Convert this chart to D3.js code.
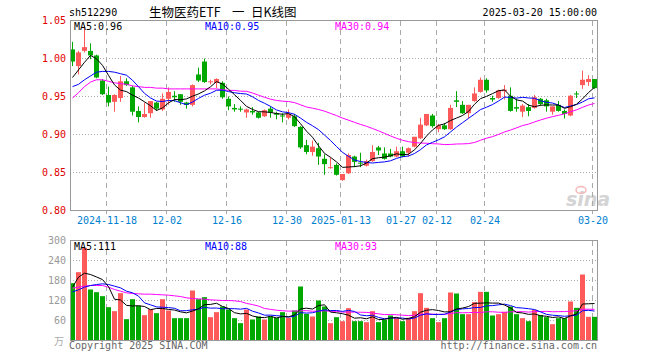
<!DOCTYPE html>
<html>
<head>
<meta charset="utf-8">
<script src="https://cdn.jsdelivr.net/npm/d3@7"></script>
<style>
  body { margin: 0; background: #fff; }
  svg { display: block; }
  text { font-family: "DejaVu Sans Mono", monospace; font-size: 10px; }
</style>
</head>
<body>
<svg id="chart" width="660" height="360"></svg>
<script>
// trading days shown
const dates = [
  '2024-11-08','2024-11-11','2024-11-12','2024-11-13','2024-11-14','2024-11-15','2024-11-18','2024-11-19','2024-11-20','2024-11-21',
  '2024-11-22','2024-11-25','2024-11-26','2024-11-27','2024-11-28','2024-11-29','2024-12-02','2024-12-03','2024-12-04','2024-12-05',
  '2024-12-06','2024-12-09','2024-12-10','2024-12-11','2024-12-12','2024-12-13','2024-12-16','2024-12-17','2024-12-18','2024-12-19',
  '2024-12-20','2024-12-23','2024-12-24','2024-12-25','2024-12-26','2024-12-27','2024-12-30','2024-12-31','2025-01-02','2025-01-03',
  '2025-01-06','2025-01-07','2025-01-08','2025-01-09','2025-01-10','2025-01-13','2025-01-14','2025-01-15','2025-01-16','2025-01-17',
  '2025-01-20','2025-01-21','2025-01-22','2025-01-23','2025-01-24','2025-01-27','2025-02-05','2025-02-06','2025-02-07','2025-02-10',
  '2025-02-11','2025-02-12','2025-02-13','2025-02-14','2025-02-17','2025-02-18','2025-02-19','2025-02-20','2025-02-21','2025-02-24',
  '2025-02-25','2025-02-26','2025-02-27','2025-02-28','2025-03-03','2025-03-04','2025-03-05','2025-03-06','2025-03-07','2025-03-10',
  '2025-03-11','2025-03-12','2025-03-13','2025-03-14','2025-03-17','2025-03-18','2025-03-19','2025-03-20'
];

const opens = [
  1.012,0.990,1.010,1.010,1.004,0.971,0.952,0.943,0.948,0.970,
  0.962,0.931,0.923,0.928,0.942,0.933,0.947,0.951,0.953,0.942,
  0.939,0.979,0.996,0.969,0.968,0.968,0.947,0.935,0.934,0.929,
  0.931,0.929,0.924,0.934,0.928,0.925,0.922,0.924,0.910,0.886,
  0.877,0.882,0.868,0.856,0.860,0.840,0.849,0.871,0.863,0.859,
  0.865,0.883,0.875,0.875,0.871,0.878,0.876,0.884,0.895,0.912,
  0.925,0.907,0.912,0.907,0.945,0.939,0.928,0.944,0.956,0.972,
  0.948,0.948,0.957,0.951,0.936,0.930,0.936,0.935,0.947,0.945,
  0.930,0.939,0.931,0.925,0.954,0.965,0.969,0.973
];
const closes = [
  0.996,1.008,1.015,1.004,0.975,0.953,0.942,0.952,0.970,0.965,
  0.930,0.923,0.927,0.944,0.934,0.947,0.956,0.949,0.943,0.939,
  0.965,0.971,0.969,0.970,0.973,0.949,0.937,0.933,0.933,0.933,
  0.929,0.922,0.932,0.929,0.926,0.924,0.927,0.911,0.883,0.877,
  0.884,0.871,0.861,0.857,0.847,0.848,0.873,0.864,0.862,0.865,
  0.877,0.879,0.868,0.871,0.878,0.871,0.882,0.897,0.913,0.927,
  0.911,0.912,0.907,0.935,0.943,0.928,0.939,0.954,0.972,0.958,
  0.946,0.958,0.959,0.931,0.934,0.938,0.931,0.949,0.940,0.937,
  0.937,0.931,0.927,0.951,0.953,0.972,0.973,0.961
];
const highs = [
  1.022,1.010,1.043,1.020,1.005,0.973,0.963,0.953,0.977,0.974,
  0.964,0.937,0.942,0.944,0.943,0.954,0.962,0.957,0.953,0.943,
  0.966,0.988,1.000,0.972,0.974,0.970,0.950,0.940,0.937,0.934,
  0.936,0.930,0.933,0.937,0.930,0.928,0.933,0.927,0.911,0.893,
  0.892,0.889,0.874,0.870,0.862,0.848,0.875,0.872,0.876,0.867,
  0.886,0.885,0.883,0.881,0.884,0.884,0.883,0.897,0.922,0.927,
  0.927,0.914,0.915,0.939,0.957,0.944,0.939,0.962,0.975,0.974,
  0.951,0.959,0.965,0.962,0.947,0.940,0.940,0.952,0.948,0.947,
  0.937,0.944,0.933,0.952,0.957,0.984,0.978,0.973
];
const lows = [
  0.990,0.979,1.008,0.999,0.974,0.952,0.937,0.930,0.943,0.964,
  0.925,0.916,0.922,0.922,0.931,0.931,0.939,0.943,0.939,0.934,
  0.937,0.969,0.968,0.966,0.961,0.947,0.932,0.930,0.930,0.922,
  0.926,0.921,0.923,0.922,0.920,0.916,0.920,0.910,0.881,0.874,
  0.872,0.860,0.847,0.855,0.846,0.839,0.848,0.857,0.857,0.858,
  0.864,0.873,0.867,0.870,0.870,0.870,0.871,0.883,0.894,0.911,
  0.909,0.903,0.906,0.906,0.936,0.927,0.921,0.943,0.955,0.955,
  0.943,0.947,0.946,0.930,0.930,0.923,0.924,0.934,0.938,0.930,
  0.926,0.930,0.921,0.924,0.948,0.960,0.964,0.960
];
// volume, 10k lots
const volumes = [
  172,205,278,153,145,133,100,88,142,64,
  124,104,76,94,82,124,90,67,67,67,
  150,124,130,70,85,102,93,67,52,93,
  63,72,63,72,68,85,68,90,162,80,
  72,120,102,52,70,58,97,58,58,55,
  88,55,62,75,68,58,68,88,142,98,
  67,55,67,144,141,79,79,115,146,146,
  75,79,86,102,79,67,58,92,76,70,
  49,67,67,117,98,198,71,71
];

// moving average values before enough history is on screen
const priceMa5Head = [0.975,0.985,0.995,1.004];
const priceMa10Head = [0.963,0.966,0.972,0.977,0.982,0.983,0.983,0.982,0.980];
const priceMa30Head = [0.948,0.955,0.963,0.969,0.972,0.972,0.970,0.968,0.967,0.966,
  0.964,0.963,0.962,0.962,0.961,0.961,0.960,0.960,0.960,0.960,
  0.960,0.960,0.960,0.960,0.960,0.959,0.958,0.958,0.957];
const volMa5Head = [160,190,202,198];
const volMa10Head = [146,152,160,165,168,170,168,163,158];
const volMa30Head = [157,160,163,165,165,165,160,153,148,143,
  141,140,139,139,138,137,136,134,132,128,
  126,125,124,122,121,120,120,119,117];

const tickDates = ['2024-11-18','2024-12-02','2024-12-16','2024-12-30','2025-01-13','2025-01-27','2025-02-12','2025-02-24','2025-03-20'];
const tickLabels = ['2024-11-18','12-02','12-16','12-30','2025-01-13','01-27','02-12','02-24','03-20'];
const priceTicks = [0.80,0.85,0.90,0.95,1.00,1.05];
const volTicks = [60,120,180,240,300];

const RED = '#ff5a5a', GREEN = '#00a800';

function movingAvg(vals, n, head) {
  return vals.map(function (v, i) {
    if (i < n - 1) return head[i];
    return d3.mean(vals.slice(i - n + 1, i + 1));
  });
}

const svg = d3.select('#chart');
svg.append('rect').attr('width', 660).attr('height', 360).attr('fill', '#fff');

const L = 70, R = 597;
const x = d3.scaleLinear().domain([0, dates.length - 1]).range([L, 592]);
const yP = d3.scaleLinear().domain([0.80, 1.05]).range([210.5, 20.5]);
const yV = d3.scaleLinear().domain([0, 300]).range([340.5, 240.5]);
const tickIdx = tickDates.map(d => dates.indexOf(d));
const bx = i => Math.round(x(i));

// header
svg.append('text').attr('x', 69).attr('y', 16).attr('fill', '#000').text('sh512290');
const title = svg.append('text').attr('y', 17).attr('fill', '#000')
  .style('font-family', '"Noto Sans CJK SC", sans-serif').style('font-size', '12.5px');
title.append('tspan').attr('x', 149).text('生物医药ETF');
title.append('tspan').attr('x', 232).text('一');
title.append('tspan').attr('x', 251).text('日K线图');
svg.append('text').attr('x', 597).attr('y', 16).attr('text-anchor', 'end').attr('fill', '#000').text('2025-03-20 15:00:00');

function panelGrid(yScale, ticks, top, bottom) {
  const g = svg.append('g');
  g.selectAll('line.h').data(ticks).enter().append('line')
    .attr('x1', L).attr('x2', R)
    .attr('y1', d => Math.round(yScale(d) - 0.5) + 0.5).attr('y2', d => Math.round(yScale(d) - 0.5) + 0.5)
    .attr('stroke', '#aaa').attr('stroke-dasharray', '1,2');
  g.selectAll('line.v').data(tickIdx).enter().append('line')
    .attr('x1', i => bx(i) + 0.5).attr('x2', i => bx(i) + 0.5)
    .attr('y1', top).attr('y2', bottom)
    .attr('stroke', '#aaa').attr('stroke-dasharray', '5,4');
}
panelGrid(yP, [0.85, 0.90, 0.95, 1.00], 21, 214);
panelGrid(yV, [60, 120, 180, 240], 241, 340);

// watermark
const wm = svg.append('g').attr('opacity', 0.5);
wm.append('text').attr('x', 566).attr('y', 206)
  .style('font-family', '"DejaVu Sans", sans-serif').style('font-size', '19px')
  .style('font-style', 'italic').style('font-weight', 'bold').attr('fill', '#aaa').text('sina');
wm.append('ellipse').attr('cx', 581).attr('cy', 190).attr('rx', 5).attr('ry', 3.5)
  .attr('fill', 'none').attr('stroke', '#f07070').attr('stroke-width', 1.5);

// candles
const cg = svg.append('g');
dates.forEach(function (d, i) {
  const up = closes[i] >= opens[i];
  const col = up ? RED : GREEN;
  cg.append('line').attr('x1', bx(i) + 2.5).attr('x2', bx(i) + 2.5)
    .attr('y1', yP(highs[i])).attr('y2', yP(lows[i])).attr('stroke', col);
  const t = yP(Math.max(opens[i], closes[i]));
  const b = yP(Math.min(opens[i], closes[i]));
  cg.append('rect').attr('x', bx(i)).attr('width', 5)
    .attr('y', t).attr('height', Math.max(1, b - t)).attr('fill', col);
});

// volume bars
svg.append('g').selectAll('rect').data(volumes).enter().append('rect')
  .attr('x', (v, i) => bx(i)).attr('width', 5)
  .attr('y', v => yV(v)).attr('height', v => 340.5 - yV(v))
  .attr('fill', (v, i) => closes[i] >= opens[i] ? RED : GREEN);

// MA lines
const pMa5 = movingAvg(closes, 5, priceMa5Head);
const pMa10 = movingAvg(closes, 10, priceMa10Head);
const pMa30 = movingAvg(closes, 30, priceMa30Head);
const vMa5 = movingAvg(volumes, 5, volMa5Head);
const vMa10 = movingAvg(volumes, 10, volMa10Head);
const vMa30 = movingAvg(volumes, 30, volMa30Head);

function drawLine(vals, yScale, color) {
  svg.append('path').datum(vals)
    .attr('fill', 'none').attr('stroke', color).attr('stroke-width', 1)
    .attr('d', d3.line().x((v, i) => bx(i) + 2.5).y(v => yScale(v)));
}
drawLine(pMa30, yP, '#ff00ff');
drawLine(pMa10, yP, '#0000ff');
drawLine(pMa5, yP, '#000');
drawLine(vMa30, yV, '#ff00ff');
drawLine(vMa10, yV, '#0000ff');
drawLine(vMa5, yV, '#000');

// borders
svg.append('rect').attr('x', 70.5).attr('y', 20.5).attr('width', 527).attr('height', 190)
  .attr('fill', 'none').attr('stroke', '#999');
svg.append('rect').attr('x', 70.5).attr('y', 240.5).attr('width', 527).attr('height', 100)
  .attr('fill', 'none').attr('stroke', '#999');

// axes
const ayP = svg.append('g').attr('transform', 'translate(70,0)')
  .call(d3.axisLeft(yP).tickValues(priceTicks).tickFormat(d3.format('.2f')).tickSize(0).tickPadding(4));
ayP.select('.domain').remove();
ayP.selectAll('text').attr('fill', '#e00000').style('font-size', '10px').style('font-family', '"DejaVu Sans Mono", monospace');

const ayV = svg.append('g').attr('transform', 'translate(70,0)')
  .call(d3.axisLeft(yV).tickValues(volTicks).tickFormat(d3.format('d')).tickSize(0).tickPadding(4));
ayV.select('.domain').remove();
ayV.selectAll('text').attr('fill', '#999').style('font-size', '10px').style('font-family', '"DejaVu Sans Mono", monospace');
svg.append('text').attr('x', 64).attr('y', 345).attr('text-anchor', 'end').attr('fill', '#aaa')
  .style('font-family', '"Noto Sans CJK SC", sans-serif').text('万');

const ax = svg.append('g').attr('transform', 'translate(0,211)')
  .call(d3.axisBottom(d3.scaleLinear().domain([0, dates.length - 1]).range([L + 0.5, 592.5]))
    .tickValues(tickIdx).tickFormat((d, k) => tickLabels[k]).tickSize(0).tickPadding(6));
ax.select('.domain').remove();
ax.selectAll('text').attr('fill', '#0080d0').style('font-size', '10px').style('font-family', '"DejaVu Sans Mono", monospace');

// MA legends
const last = dates.length - 1;
svg.append('text').attr('x', 74).attr('y', 30).attr('fill', '#000').text('MA5:' + pMa5[last].toFixed(2));
svg.append('text').attr('x', 205).attr('y', 30).attr('fill', '#0000ff').text('MA10:' + pMa10[last].toFixed(2));
svg.append('text').attr('x', 335).attr('y', 30).attr('fill', '#ff00ff').text('MA30:' + pMa30[last].toFixed(2));
svg.append('text').attr('x', 74).attr('y', 250).attr('fill', '#000').text('MA5:' + Math.round(vMa5[last]));
svg.append('text').attr('x', 205).attr('y', 250).attr('fill', '#0000ff').text('MA10:' + Math.round(vMa10[last]));
svg.append('text').attr('x', 335).attr('y', 250).attr('fill', '#ff00ff').text('MA30:' + Math.round(vMa30[last]));

// footer
svg.append('text').attr('x', 69).attr('y', 349).attr('fill', '#666').text('Copyright 2025 SINA.COM');
svg.append('text').attr('x', 597).attr('y', 349).attr('text-anchor', 'end').attr('fill', '#666').text('http://finance.sina.com.cn');
</script>
</body>
</html>
